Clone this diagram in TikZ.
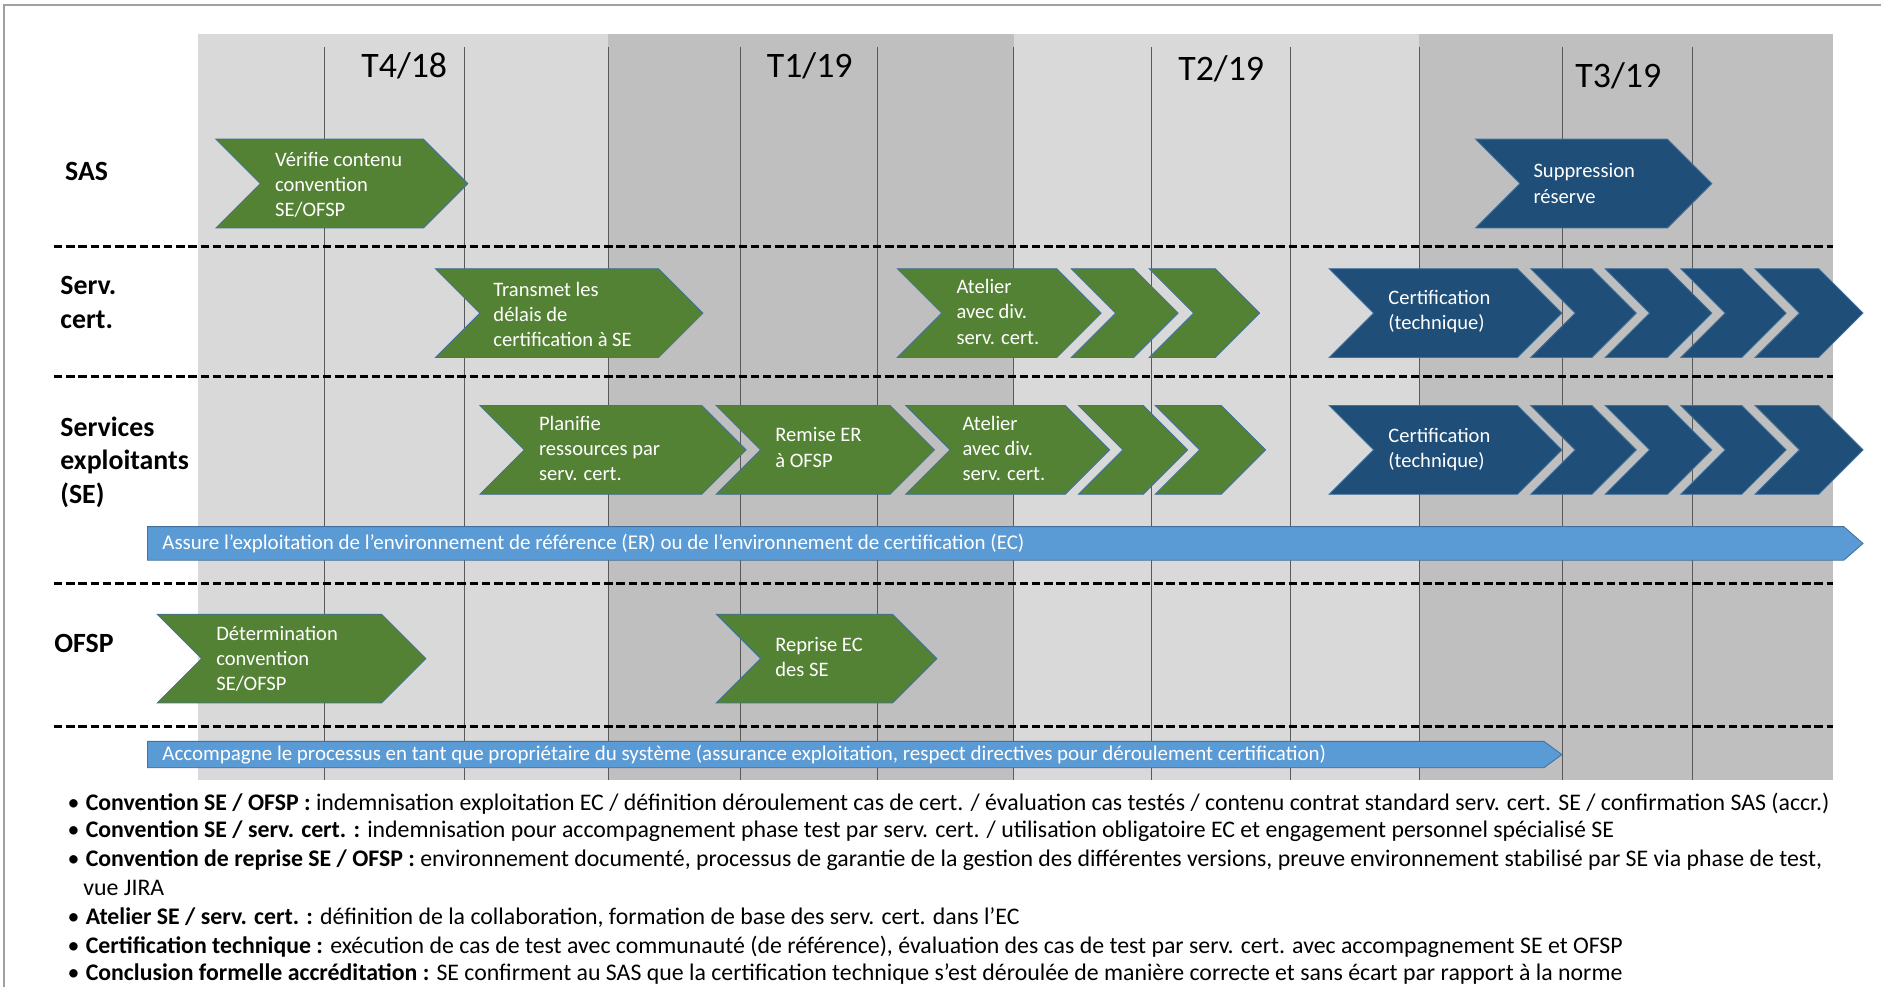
\documentclass[tikz,border=0pt]{standalone}
\usepackage{fontspec}
\setmainfont{Carlito}
\usepackage{tikz}
\usetikzlibrary{calc}
\definecolor{bandlight}{HTML}{D9D9D9}
\definecolor{banddark}{HTML}{BFBFBF}
\definecolor{chevgreen}{HTML}{548235}
\definecolor{chevnavy}{HTML}{1F4E79}
\definecolor{barblue}{HTML}{5B9BD5}
\definecolor{edgeblue}{HTML}{41719C}
\definecolor{framegray}{HTML}{A0A0A0}
\def\chevron[#1](#2,#3)(#4){\draw[#1] (#2,#3) -- (#4-37,#3) -- (#4,#3+37) -- (#4-37,#3+74) -- (#2,#3+74) -- (#2+37,#3+37) -- cycle;}
\tikzset{
  greenchev/.style={fill=chevgreen, draw=edgeblue, line width=0.4pt},
  navychev/.style={fill=chevnavy, draw=edgeblue, line width=0.4pt},
  bararrow/.style={fill=barblue, draw=edgeblue, line width=0.4pt},
  monthline/.style={draw=black!65, line width=0.3pt},
  rowsep/.style={draw=black, line width=1.4pt, dash pattern=on 4pt off 1.8pt},
  chevtext/.style={text=white, anchor=west, align=left, inner sep=0pt, font=\fontsize{9.75}{11.95}\selectfont},
  bartext/.style={text=white, anchor=west, inner sep=0pt, font=\fontsize{9.95}{11}\selectfont},
  rowlabel/.style={anchor=west, align=left, inner sep=0pt, font=\bfseries\fontsize{13.2}{15.9}\selectfont},
  quarter/.style={inner sep=0pt, font=\fontsize{17}{20}\selectfont},
  notetext/.style={anchor=west, align=left, inner sep=0pt, font=\fontsize{11.3}{13.7}\selectfont}
}

\begin{document}
\begin{tikzpicture}[x=0.02cm, y=-0.02cm]
		\useasboundingbox (0,0) rectangle (1568,823);
		
		% quarters
		\fill[bandlight] (165,28) rectangle (507,650);
		\fill[banddark] (507,28) rectangle (845,650);
		\fill[bandlight] (845,28) rectangle (1183,650);
		\fill[banddark] (1183,28) rectangle (1528,650);
		
		\draw[framegray, line width=1pt] (3.5,823) -- (3.5,4) -- (1568,4);
		
		% months
		\draw[monthline] (270,39) -- (270,650);
		\draw[monthline] (387,39) -- (387,650);
		\draw[monthline] (507,39) -- (507,650);
		\draw[monthline] (617,39) -- (617,650);
		\draw[monthline] (731,39) -- (731,650);
		\draw[monthline] (845,39) -- (845,650);
		\draw[monthline] (960,39) -- (960,650);
		\draw[monthline] (1076,39) -- (1076,650);
		\draw[monthline] (1183,39) -- (1183,650);
		\draw[monthline] (1302,39) -- (1302,650);
		\draw[monthline] (1411,39) -- (1411,650);
		
		\node[quarter] (q418) at (337,55) {T4/18};
		\node[quarter] (q119) at (675,55) {T1/19};
		\node[quarter] (q219) at (1018,57) {T2/19};
		\node[quarter] (q319) at (1349,63) {T3/19};
		
		\draw[rowsep] (45,205.5) -- (1528,205.5);
		\draw[rowsep] (45,314) -- (1528,314);
		\draw[rowsep] (45,486) -- (1528,486);
		\draw[rowsep] (45,605.5) -- (1528,605.5);
		
		\node[rowlabel] (lsas) at (54,143) {SAS};
		\node[rowlabel] (lcert) at (50,252) {Serv.\\cert.};
		\node[rowlabel] (lse) at (50,385) {Services\\exploitants\\(SE)};
		\node[rowlabel] (lofsp) at (45,536) {OFSP};
		
		% SAS
		\chevron[greenchev](180,116)(390)
		\chevron[navychev](1230,116)(1427)
		\node[chevtext] (sasverif) at (229,154) {Vérifie contenu\\convention\\SE/OFSP};
		\node[chevtext] (sassuppr) at (1278,153) {Suppression\\réserve};
		
		% Serv. cert.
		\chevron[greenchev](363,224)(586)
		\chevron[greenchev](748,224)(918)
		\chevron[greenchev](893,224)(982)
		\chevron[greenchev](958,224)(1050)
		\chevron[navychev](1108,224)(1302)
		\chevron[navychev](1276,224)(1364)
		\chevron[navychev](1338,224)(1427)
		\chevron[navychev](1401,224)(1489)
		\chevron[navychev](1463,224)(1553)
		\node[chevtext] (certdelais) at (411,262) {Transmet les\\délais de\\certification à SE};
		\node[chevtext] (certatelier) at (797,260) {Atelier\\avec div.\\serv. cert.};
		\node[chevtext] (certtech) at (1157,260) {Certification\\(technique)};
		
		% SE
		\chevron[greenchev](400,338)(622)
		\chevron[greenchev](597,338)(779)
		\chevron[greenchev](755,338)(925)
		\chevron[greenchev](899,338)(990)
		\chevron[greenchev](963,338)(1055)
		\chevron[navychev](1108,338)(1302)
		\chevron[navychev](1276,338)(1364)
		\chevron[navychev](1338,338)(1427)
		\chevron[navychev](1401,338)(1489)
		\chevron[navychev](1463,338)(1553)
		\node[chevtext] (seplanif) at (449,374) {Planifie\\ressources par\\serv. cert.};
		\node[chevtext] (seremise) at (646,373) {Remise ER\\à OFSP};
		\node[chevtext] (seatelier) at (802,374) {Atelier\\avec div.\\serv. cert.};
		\node[chevtext] (setech) at (1157,375) {Certification\\(technique)};
		
		\draw[bararrow] (123,439) -- (1537,439) -- (1553,453) -- (1537,467) -- (123,467) -- cycle;
		\node[bartext] (assure) at (135,453) {Assure l’exploitation de l’environnement de référence (ER) ou de l’environnement de certification (EC)};
		
		% OFSP
		\chevron[greenchev](131,512)(355)
		\chevron[greenchev](597,512)(781)
		\node[chevtext] (ofspdet) at (180,549) {Détermination\\convention\\SE/OFSP};
		\node[chevtext] (ofspreprise) at (646,548) {Reprise EC\\des SE};
		
		\draw[bararrow] (123,618) -- (1287,618) -- (1302,629) -- (1287,640) -- (123,640) -- cycle;
		\node[bartext] (accomp) at (135,629) {Accompagne le processus en tant que propriétaire du système (assurance exploitation, respect directives pour déroulement certification)};
		
		% notes
		\node[notetext] (n1) at (56,670) {•\hspace{3pt}\textbf{Convention SE / OFSP :} indemnisation exploitation EC / définition déroulement cas de cert. / évaluation cas testés / contenu contrat standard serv. cert. SE / confirmation SAS (accr.)};
		\node[notetext] (n2) at (56,693) {•\hspace{3pt}\textbf{Convention SE / serv. cert. :} indemnisation pour accompagnement phase test par serv. cert. / utilisation obligatoire EC et engagement personnel spécialisé SE};
		\node[notetext, anchor=north west] (n3) at (56,708) {•\hspace{3pt}\textbf{Convention de reprise SE / OFSP :} environnement documenté, processus de garantie de la gestion des différentes versions, preuve environnement stabilisé par SE via phase de test,\\\hspace{7.5pt}vue JIRA};
		\node[notetext] (n4) at (56,765) {•\hspace{3pt}\textbf{Atelier SE / serv. cert. :} définition de la collaboration, formation de base des serv. cert. dans l’EC};
		\node[notetext] (n5) at (56,789) {•\hspace{3pt}\textbf{Certification technique :} exécution de cas de test avec communauté (de référence), évaluation des cas de test par serv. cert. avec accompagnement SE et OFSP};
		\node[notetext] (n6) at (56,812) {•\hspace{3pt}\textbf{Conclusion formelle accréditation :} SE confirment au SAS que la certification technique s’est déroulée de manière correcte et sans écart par rapport à la norme};
		
\end{tikzpicture}
\end{document}
